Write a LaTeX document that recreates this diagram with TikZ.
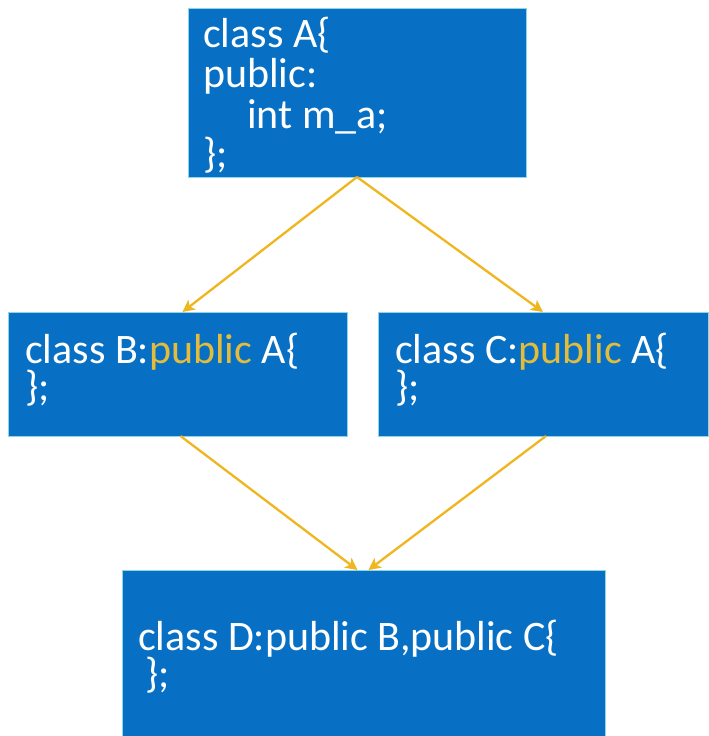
\documentclass[tikz,border=0pt]{standalone}
\usepackage{fontspec}
\setmainfont{Carlito}
\usetikzlibrary{arrows.meta,calc}
\definecolor{boxblue}{HTML}{0870C4}
\definecolor{boxedge}{HTML}{8CD6E8}
\definecolor{arrowgold}{HTML}{F0B620}
\definecolor{kwgold}{HTML}{E2BC3A}
\tikzset{
  classbox/.style={draw=boxedge, line width=1pt, fill=boxblue, inner sep=0pt, outer sep=0pt},
  codeline/.style={anchor=base west, inner sep=0pt, text=white, font=\fontsize{42}{40}\selectfont},
  codeblock/.style={anchor=north west, inner sep=0pt, text=white, align=left, font=\fontsize{42}{37.5}\selectfont},
  inherit/.style={draw=arrowgold, line width=2.3pt, -{Stealth[length=12pt,width=12pt,inset=3pt]}}
}
\begin{document}
\begin{tikzpicture}[x=1pt,y=-1pt]
\useasboundingbox (0,0) rectangle (709,736);
\fill[white] (0,0) rectangle (709,736);
% boxes
\node[classbox, minimum width=338pt, minimum height=169pt] (A) at (357,92.5) {};
\node[classbox, minimum width=339pt, minimum height=124pt] (B) at (177.5,374) {};
\node[classbox, minimum width=330pt, minimum height=124pt] (C) at (543,374) {};
\node[classbox, minimum width=483pt, minimum height=170pt] (D) at (363.5,655) {};
% text of A
\node[codeline] (a1) at (203,47) {class A\{};
\node[codeline] (a2) at (203,87) {public:};
\node[codeline] (a3) at (247,128) {int m\_a;};
\node[codeline] (a4) at (203,167) {\};};
% text of B, C, D
\node[codeblock] (b1) at (25,332.5) {class B:\textcolor{kwgold}{public} A\{\\\};};
\node[codeblock] (c1) at (395,332.5) {class C:\textcolor{kwgold}{public} A\{\\\};};
\node[codeblock] (d1) at (138,619.5) {class D:public B,public C\{\\\hspace*{7pt}\};};
% connectors
\draw[inherit] (A.south) -- ($(B.north)+(5,0)$);
\draw[inherit] (A.south) -- (C.north);
\draw[inherit] ($(B.south)+(3,0)$) -- ($(D.north)+(-6,0)$);
\draw[inherit] ($(C.south)+(3,0)$) -- ($(D.north)+(5,0)$);
\end{tikzpicture}
\end{document}
